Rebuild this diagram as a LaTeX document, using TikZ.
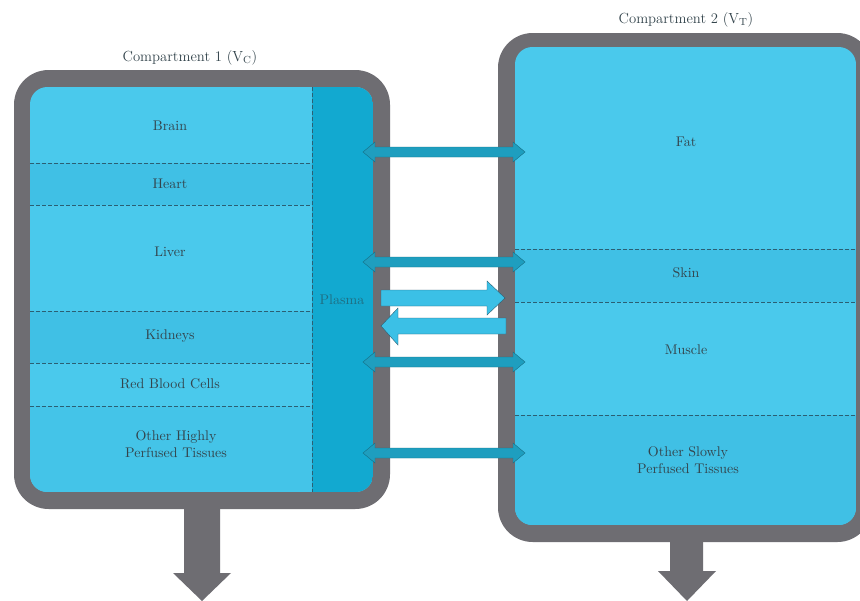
\documentclass[tikz,border=0pt]{standalone}
\definecolor{grayb}{HTML}{6E6D72}
\definecolor{lightb}{HTML}{4AC9EC}
\definecolor{midb}{HTML}{40C0E5}
\definecolor{plasmab}{HTML}{12A9D0}
\definecolor{tealarrow}{HTML}{1E9EBF}
\definecolor{singarrow}{HTML}{3BC0E6}
\definecolor{dashc}{HTML}{2B5F73}
\definecolor{txtc}{HTML}{33444C}
\definecolor{plasmatxt}{HTML}{1F6E82}
\tikzset{
  lbl/.style={text=txtc, font=\fontsize{10.5}{12.5}\selectfont, align=center, inner sep=0pt},
  ttl/.style={text=txtc, font=\fontsize{11}{13}\selectfont, inner sep=0pt},
  dashline/.style={draw=dashc, line width=0.6pt, dash pattern=on 3pt off 1.5pt},
  dblarr/.style={fill=tealarrow, draw=tealarrow!70!black, line width=0.3pt},
  sglarr/.style={fill=singarrow, draw=dashc, line width=0.3pt},
  downarr/.style={fill=grayb}
}
\newcommand{\DblArrow}[1]{%
  \path[dblarr] (363,#1) -- (375,#1-10) -- (375,#1-5) -- (513,#1-5) -- (513,#1-10) -- (525,#1)
    -- (513,#1+10) -- (513,#1+5) -- (375,#1+5) -- (375,#1+10) -- cycle;}
\begin{document}
\begin{tikzpicture}[x=0.75pt,y=-0.75pt]
\useasboundingbox (0,0) rectangle (860,600);
\clip (0,0) rectangle (860,600);
\fill[white] (0,0) rectangle (860,600);

% ---- down arrows
\path[downarr] (184,505) -- (220,505) -- (220,573) -- (231,573) -- (202,601) -- (173,573) -- (184,573) -- cycle;
\path[downarr] (670,538) -- (703,538) -- (703,571) -- (716,571) -- (687,601) -- (658,571) -- (670,571) -- cycle;

% ---- compartment 1
\fill[grayb, rounded corners=26pt] (14,70) rectangle (390,509);
\begin{scope}
  \clip[rounded corners=13pt] (30,87) rectangle (373,492);
  \fill[lightb] (30,87) rectangle (373,492);
  \fill[midb] (30,163) rectangle (312,205);
  \fill[midb] (30,311) rectangle (312,363);
  \fill[midb!60!lightb] (30,406) rectangle (312,492);
  \fill[plasmab] (312,87) rectangle (373,492);
  \draw[dashline] (30,163) -- (312,163);
  \draw[dashline] (30,205) -- (312,205);
  \draw[dashline] (30,311) -- (312,311);
  \draw[dashline] (30,363) -- (312,363);
  \draw[dashline] (30,406) -- (312,406);
  \draw[dashline] (312,87) -- (312,492);
\end{scope}

% ---- compartment 2
\fill[grayb, rounded corners=26pt] (498,33) rectangle (872,542);
\begin{scope}
  \clip[rounded corners=13pt] (515,47) rectangle (856,525);
  \fill[lightb] (515,47) rectangle (856,525);
  \fill[midb] (515,249) rectangle (856,302);
  \fill[midb] (515,415) rectangle (856,525);
  \draw[dashline] (515,249) -- (856,249);
  \draw[dashline] (515,302) -- (856,302);
  \draw[dashline] (515,415) -- (856,415);
\end{scope}

% ---- exchange arrows
\DblArrow{152}
\DblArrow{262}
\DblArrow{362}
\DblArrow{453}
\path[sglarr] (381,290) -- (487,290) -- (487,281) -- (505,298) -- (487,315) -- (487,306) -- (381,306) -- cycle;
\path[sglarr] (506,318) -- (398,318) -- (398,308) -- (381,326) -- (398,345) -- (398,334) -- (506,334) -- cycle;

% ---- labels
\node[ttl] (t1) at (190,58) {Compartment 1 (V\textsubscript{C})};
\node[ttl] (t2) at (686,20) {Compartment 2 (V\textsubscript{T})};
\node[lbl] (brain) at (170,126) {Brain};
\node[lbl] (heart) at (170,184) {Heart};
\node[lbl] (liver) at (170,252) {Liver};
\node[lbl] (kidneys) at (170,336) {Kidneys};
\node[lbl] (rbc) at (170,384) {Red Blood Cells};
\node[lbl] (ohp) at (176,444) {Other Highly\\Perfused Tissues};
\node[lbl, text=plasmatxt] (plasma) at (342,300) {Plasma};
\node[lbl] (fat) at (686,142) {Fat};
\node[lbl] (skin) at (686,273) {Skin};
\node[lbl] (muscle) at (686,350) {Muscle};
\node[lbl] (osp) at (688,460) {Other Slowly\\Perfused Tissues};
\end{tikzpicture}
\end{document}
